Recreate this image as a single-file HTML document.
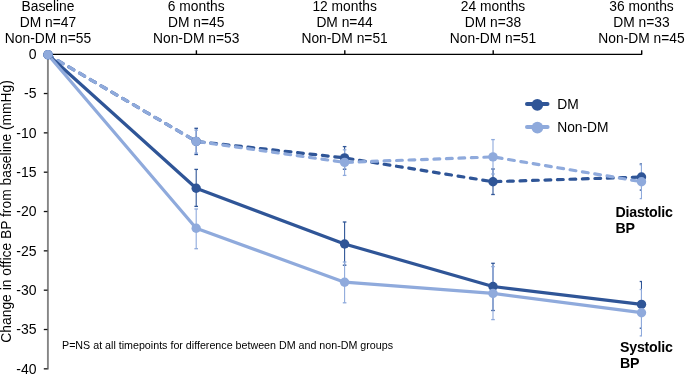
<!DOCTYPE html>
<html><head><meta charset="utf-8"><style>
html,body{margin:0;padding:0;background:#fff;}
svg{display:block;will-change:transform;}
text{font-family:"Liberation Sans",sans-serif;fill:#000;}
.tk{font-size:14px;}
.hd{font-size:13.8px;}
.lg{font-size:13.8px;}
.bd{font-size:14.2px;font-weight:bold;letter-spacing:-0.22px;}
.nt{font-size:10.7px;}
.yl{font-size:13.85px;}
</style></head><body>
<svg width="685" height="374" viewBox="0 0 685 374">
<defs><clipPath id="cp"><rect x="0" y="0" width="642" height="374"/></clipPath></defs>
<line x1="47" y1="54.35" x2="642.2" y2="54.35" stroke="#000" stroke-width="1.25"/>
<line x1="196.39999999999998" y1="50.3" x2="196.39999999999998" y2="54.2" stroke="#000" stroke-width="1.4"/>
<line x1="344.8" y1="50.3" x2="344.8" y2="54.2" stroke="#000" stroke-width="1.4"/>
<line x1="493.2" y1="50.3" x2="493.2" y2="54.2" stroke="#000" stroke-width="1.4"/>
<line x1="641.7" y1="50.3" x2="641.7" y2="54.2" stroke="#000" stroke-width="1.4"/>
<line x1="47.9" y1="54.2" x2="47.9" y2="369.4" stroke="#858585" stroke-width="1.9"/>
<line x1="43.8" y1="54.20" x2="47.5" y2="54.20" stroke="#111" stroke-width="1.3"/>
<text x="36.5" y="59.00" text-anchor="end" class="tk">0</text>
<line x1="43.8" y1="93.53" x2="47.5" y2="93.53" stroke="#111" stroke-width="1.3"/>
<text x="36.5" y="98.33" text-anchor="end" class="tk">-5</text>
<line x1="43.8" y1="132.86" x2="47.5" y2="132.86" stroke="#111" stroke-width="1.3"/>
<text x="36.5" y="137.66" text-anchor="end" class="tk">-10</text>
<line x1="43.8" y1="172.19" x2="47.5" y2="172.19" stroke="#111" stroke-width="1.3"/>
<text x="36.5" y="176.99" text-anchor="end" class="tk">-15</text>
<line x1="43.8" y1="211.52" x2="47.5" y2="211.52" stroke="#111" stroke-width="1.3"/>
<text x="36.5" y="216.32" text-anchor="end" class="tk">-20</text>
<line x1="43.8" y1="250.85" x2="47.5" y2="250.85" stroke="#111" stroke-width="1.3"/>
<text x="36.5" y="255.65" text-anchor="end" class="tk">-25</text>
<line x1="43.8" y1="290.18" x2="47.5" y2="290.18" stroke="#111" stroke-width="1.3"/>
<text x="36.5" y="294.98" text-anchor="end" class="tk">-30</text>
<line x1="43.8" y1="329.51" x2="47.5" y2="329.51" stroke="#111" stroke-width="1.3"/>
<text x="36.5" y="334.31" text-anchor="end" class="tk">-35</text>
<line x1="43.8" y1="368.84" x2="47.5" y2="368.84" stroke="#111" stroke-width="1.3"/>
<text x="36.5" y="373.64" text-anchor="end" class="tk">-40</text>
<g clip-path="url(#cp)"><line x1="196.2" y1="128.3" x2="196.2" y2="154.5" stroke="#2f5597" stroke-width="1.1"/><line x1="194.39999999999998" y1="128.3" x2="198.0" y2="128.3" stroke="#2f5597" stroke-width="1.3"/><line x1="194.39999999999998" y1="154.5" x2="198.0" y2="154.5" stroke="#2f5597" stroke-width="1.3"/></g>
<g clip-path="url(#cp)"><line x1="344.6" y1="146.6" x2="344.6" y2="169.2" stroke="#2f5597" stroke-width="1.1"/><line x1="342.8" y1="146.6" x2="346.40000000000003" y2="146.6" stroke="#2f5597" stroke-width="1.3"/><line x1="342.8" y1="169.2" x2="346.40000000000003" y2="169.2" stroke="#2f5597" stroke-width="1.3"/></g>
<g clip-path="url(#cp)"><line x1="493.0" y1="169.0" x2="493.0" y2="194.5" stroke="#2f5597" stroke-width="1.1"/><line x1="491.2" y1="169.0" x2="494.8" y2="169.0" stroke="#2f5597" stroke-width="1.3"/><line x1="491.2" y1="194.5" x2="494.8" y2="194.5" stroke="#2f5597" stroke-width="1.3"/></g>
<g clip-path="url(#cp)"><line x1="641.5" y1="164" x2="641.5" y2="190.1" stroke="#2f5597" stroke-width="1.1"/><line x1="639.7" y1="164" x2="643.3" y2="164" stroke="#2f5597" stroke-width="1.3"/><line x1="639.7" y1="190.1" x2="643.3" y2="190.1" stroke="#2f5597" stroke-width="1.3"/></g>
<g clip-path="url(#cp)"><line x1="196.2" y1="130.1" x2="196.2" y2="153.1" stroke="#8faadc" stroke-width="1.1"/><line x1="194.39999999999998" y1="130.1" x2="198.0" y2="130.1" stroke="#8faadc" stroke-width="1.3"/><line x1="194.39999999999998" y1="153.1" x2="198.0" y2="153.1" stroke="#8faadc" stroke-width="1.3"/></g>
<g clip-path="url(#cp)"><line x1="344.6" y1="149.8" x2="344.6" y2="175.4" stroke="#8faadc" stroke-width="1.1"/><line x1="342.8" y1="149.8" x2="346.40000000000003" y2="149.8" stroke="#8faadc" stroke-width="1.3"/><line x1="342.8" y1="175.4" x2="346.40000000000003" y2="175.4" stroke="#8faadc" stroke-width="1.3"/></g>
<g clip-path="url(#cp)"><line x1="493.0" y1="139.6" x2="493.0" y2="174.0" stroke="#8faadc" stroke-width="1.1"/><line x1="491.2" y1="139.6" x2="494.8" y2="139.6" stroke="#8faadc" stroke-width="1.3"/><line x1="491.2" y1="174.0" x2="494.8" y2="174.0" stroke="#8faadc" stroke-width="1.3"/></g>
<g clip-path="url(#cp)"><line x1="641.5" y1="164.8" x2="641.5" y2="198.6" stroke="#8faadc" stroke-width="1.1"/><line x1="639.7" y1="164.8" x2="643.3" y2="164.8" stroke="#8faadc" stroke-width="1.3"/><line x1="639.7" y1="198.6" x2="643.3" y2="198.6" stroke="#8faadc" stroke-width="1.3"/></g>
<g clip-path="url(#cp)"><line x1="196.2" y1="169.4" x2="196.2" y2="206.4" stroke="#2f5597" stroke-width="1.1"/><line x1="194.39999999999998" y1="169.4" x2="198.0" y2="169.4" stroke="#2f5597" stroke-width="1.3"/><line x1="194.39999999999998" y1="206.4" x2="198.0" y2="206.4" stroke="#2f5597" stroke-width="1.3"/></g>
<g clip-path="url(#cp)"><line x1="344.6" y1="222" x2="344.6" y2="265.2" stroke="#2f5597" stroke-width="1.1"/><line x1="342.8" y1="222" x2="346.40000000000003" y2="222" stroke="#2f5597" stroke-width="1.3"/><line x1="342.8" y1="265.2" x2="346.40000000000003" y2="265.2" stroke="#2f5597" stroke-width="1.3"/></g>
<g clip-path="url(#cp)"><line x1="493.0" y1="263.3" x2="493.0" y2="310.5" stroke="#2f5597" stroke-width="1.1"/><line x1="491.2" y1="263.3" x2="494.8" y2="263.3" stroke="#2f5597" stroke-width="1.3"/><line x1="491.2" y1="310.5" x2="494.8" y2="310.5" stroke="#2f5597" stroke-width="1.3"/></g>
<g clip-path="url(#cp)"><line x1="641.5" y1="281.5" x2="641.5" y2="328.2" stroke="#2f5597" stroke-width="1.1"/><line x1="639.7" y1="281.5" x2="643.3" y2="281.5" stroke="#2f5597" stroke-width="1.3"/><line x1="639.7" y1="328.2" x2="643.3" y2="328.2" stroke="#2f5597" stroke-width="1.3"/></g>
<g clip-path="url(#cp)"><line x1="196.2" y1="209" x2="196.2" y2="248.7" stroke="#8faadc" stroke-width="1.1"/><line x1="194.39999999999998" y1="209" x2="198.0" y2="209" stroke="#8faadc" stroke-width="1.3"/><line x1="194.39999999999998" y1="248.7" x2="198.0" y2="248.7" stroke="#8faadc" stroke-width="1.3"/></g>
<g clip-path="url(#cp)"><line x1="344.6" y1="262" x2="344.6" y2="302.8" stroke="#8faadc" stroke-width="1.1"/><line x1="342.8" y1="262" x2="346.40000000000003" y2="262" stroke="#8faadc" stroke-width="1.3"/><line x1="342.8" y1="302.8" x2="346.40000000000003" y2="302.8" stroke="#8faadc" stroke-width="1.3"/></g>
<g clip-path="url(#cp)"><line x1="493.0" y1="266.6" x2="493.0" y2="319.6" stroke="#8faadc" stroke-width="1.1"/><line x1="491.2" y1="266.6" x2="494.8" y2="266.6" stroke="#8faadc" stroke-width="1.3"/><line x1="491.2" y1="319.6" x2="494.8" y2="319.6" stroke="#8faadc" stroke-width="1.3"/></g>
<g clip-path="url(#cp)"><line x1="641.5" y1="289.5" x2="641.5" y2="335.9" stroke="#8faadc" stroke-width="1.1"/><line x1="639.7" y1="289.5" x2="643.3" y2="289.5" stroke="#8faadc" stroke-width="1.3"/><line x1="639.7" y1="335.9" x2="643.3" y2="335.9" stroke="#8faadc" stroke-width="1.3"/></g>
<polyline points="48,54.8 196.2,141.4 344.6,157.9 493.0,181.7 641.5,177.0" fill="none" stroke="#2f5597" stroke-width="3.2" stroke-linejoin="round" stroke-dasharray="5.8 6.68" stroke-dashoffset="0.9" stroke-linecap="round"/>
<polyline points="48,54.8 196.2,141.4 344.6,162.4 493.0,156.9 641.5,181.7" fill="none" stroke="#8faadc" stroke-width="3.2" stroke-linejoin="round" stroke-dasharray="5.8 6.68" stroke-dashoffset="0.9" stroke-linecap="round"/>
<polyline points="48,54.8 196.2,188.2 344.6,244.0 493.0,286.5 641.5,304.4" fill="none" stroke="#2f5597" stroke-width="3.2" stroke-linejoin="round"/>
<polyline points="48,54.8 196.2,228.2 344.6,282.2 493.0,293.4 641.5,312.7" fill="none" stroke="#8faadc" stroke-width="3.2" stroke-linejoin="round"/>
<circle cx="48" cy="54.8" r="4.7" fill="#2f5597"/>
<circle cx="196.2" cy="141.4" r="4.7" fill="#2f5597"/>
<circle cx="344.6" cy="157.9" r="4.7" fill="#2f5597"/>
<circle cx="493.0" cy="181.7" r="4.7" fill="#2f5597"/>
<circle cx="641.5" cy="177.0" r="4.7" fill="#2f5597"/>
<circle cx="48" cy="54.8" r="4.7" fill="#8faadc"/>
<circle cx="196.2" cy="141.4" r="4.7" fill="#8faadc"/>
<circle cx="344.6" cy="162.4" r="4.7" fill="#8faadc"/>
<circle cx="493.0" cy="156.9" r="4.7" fill="#8faadc"/>
<circle cx="641.5" cy="181.7" r="4.7" fill="#8faadc"/>
<circle cx="48" cy="54.8" r="4.7" fill="#2f5597"/>
<circle cx="196.2" cy="188.2" r="4.7" fill="#2f5597"/>
<circle cx="344.6" cy="244.0" r="4.7" fill="#2f5597"/>
<circle cx="493.0" cy="286.5" r="4.7" fill="#2f5597"/>
<circle cx="641.5" cy="304.4" r="4.7" fill="#2f5597"/>
<circle cx="48" cy="54.8" r="4.7" fill="#8faadc"/>
<circle cx="196.2" cy="228.2" r="4.7" fill="#8faadc"/>
<circle cx="344.6" cy="282.2" r="4.7" fill="#8faadc"/>
<circle cx="493.0" cy="293.4" r="4.7" fill="#8faadc"/>
<circle cx="641.5" cy="312.7" r="4.7" fill="#8faadc"/>
<line x1="527" y1="103.9" x2="547.5" y2="103.9" stroke="#2f5597" stroke-width="4" stroke-linecap="round"/><circle cx="537.3" cy="104.8" r="5.9" fill="#2f5597"/>
<line x1="527" y1="126.9" x2="547.6" y2="126.9" stroke="#8faadc" stroke-width="4" stroke-linecap="round"/><circle cx="537.4" cy="127.6" r="5.9" fill="#8faadc"/>
<text x="557.2" y="109.3" class="lg">DM</text><text x="557.2" y="132.0" class="lg">Non-DM</text>
<text x="48" y="11.00" text-anchor="middle" class="hd">Baseline</text>
<text x="48" y="26.75" text-anchor="middle" class="hd">DM n=47</text>
<text x="48" y="42.50" text-anchor="middle" class="hd">Non-DM n=55</text>
<text x="196.2" y="11.00" text-anchor="middle" class="hd">6 months</text>
<text x="196.2" y="26.75" text-anchor="middle" class="hd">DM n=45</text>
<text x="196.2" y="42.50" text-anchor="middle" class="hd">Non-DM n=53</text>
<text x="344.6" y="11.00" text-anchor="middle" class="hd">12 months</text>
<text x="344.6" y="26.75" text-anchor="middle" class="hd">DM n=44</text>
<text x="344.6" y="42.50" text-anchor="middle" class="hd">Non-DM n=51</text>
<text x="493.0" y="11.00" text-anchor="middle" class="hd">24 months</text>
<text x="493.0" y="26.75" text-anchor="middle" class="hd">DM n=38</text>
<text x="493.0" y="42.50" text-anchor="middle" class="hd">Non-DM n=51</text>
<text x="641.5" y="11.00" text-anchor="middle" class="hd">36 months</text>
<text x="641.5" y="26.75" text-anchor="middle" class="hd">DM n=33</text>
<text x="641.5" y="42.50" text-anchor="middle" class="hd">Non-DM n=45</text>
<text x="615.5" y="217.1" class="bd">Diastolic</text><text x="615.5" y="232.7" class="bd">BP</text>
<text x="620" y="351.9" class="bd">Systolic</text><text x="620" y="368.4" class="bd">BP</text>
<text x="62" y="348.9" class="nt">P=NS at all timepoints for difference between DM and non-DM groups</text>
<text transform="translate(10.9,211.4) rotate(-90)" text-anchor="middle" class="yl">Change in office BP from baseline (mmHg)</text>
</svg>
</body></html>
